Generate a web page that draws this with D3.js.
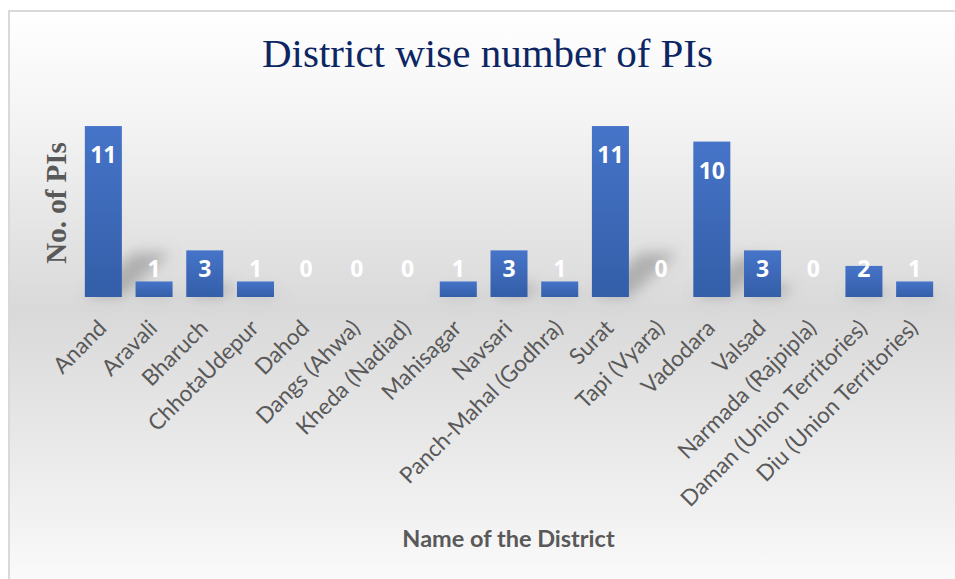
<!DOCTYPE html>
<html>
<head>
<meta charset="utf-8">
<script src="https://cdn.jsdelivr.net/npm/d3@7"></script>
<style>
  html, body { margin: 0; padding: 0; background: #fff; }
  svg { display: block; }
</style>
</head>
<body>
<div id="chart"></div>
<script>
// Dados do gráfico
const districts = [
  'Anand', 'Aravali', 'Bharuch', 'ChhotaUdepur', 'Dahod', 'Dangs (Ahwa)',
  'Kheda (Nadiad)', 'Mahisagar', 'Navsari', 'Panch-Mahal (Godhra)', 'Surat',
  'Tapi (Vyara)', 'Vadodara', 'Valsad', 'Narmada (Rajpipla)',
  'Daman (Union Territories)', 'Diu (Union Territories)'
];
const piCounts = [11, 1, 3, 1, 0, 0, 0, 1, 3, 1, 11, 0, 10, 3, 0, 2, 1];
const yDomain = [0, 12];

const chartTitle = 'District wise number of PIs';
const yTitle = 'No. of PIs';
const xTitle = 'Name of the District';

const width = 955;
const height = 579;

const svg = d3.select('#chart')
  .append('svg')
  .attr('width', width)
  .attr('height', height);

const defs = svg.append('defs');

// Fundo com gradiente (branco -> cinza -> branco)
const bg = defs.append('linearGradient')
  .attr('id', 'bg-grad')
  .attr('x1', 0).attr('y1', 0).attr('x2', 0).attr('y2', 1);
bg.append('stop').attr('offset', '0%').attr('stop-color', '#ffffff');
bg.append('stop').attr('offset', '18%').attr('stop-color', '#f4f4f4');
bg.append('stop').attr('offset', '50%').attr('stop-color', '#d9d9d9');
bg.append('stop').attr('offset', '85%').attr('stop-color', '#f2f2f2');
bg.append('stop').attr('offset', '100%').attr('stop-color', '#ffffff');

// Gradiente das barras
const barGrad = defs.append('linearGradient')
  .attr('id', 'bar-grad')
  .attr('x1', 0).attr('y1', 0).attr('x2', 0).attr('y2', 1);
barGrad.append('stop').attr('offset', '0%').attr('stop-color', '#4674c8');
barGrad.append('stop').attr('offset', '100%').attr('stop-color', '#335ea8');

// Sombra desfocada
defs.append('filter')
  .attr('id', 'blur')
  .attr('x', '-50%').attr('y', '-50%').attr('width', '200%').attr('height', '200%')
  .append('feGaussianBlur')
  .attr('stdDeviation', 7);

svg.append('rect')
  .attr('x', 9).attr('y', 11)
  .attr('width', 960).attr('height', 600)
  .attr('fill', 'url(#bg-grad)')
  .attr('stroke', '#d9d9d9')
  .attr('stroke-width', 2);

// Escalas
const x = d3.scaleBand()
  .domain(districts)
  .range([78, 940])
  .paddingInner(0.27)
  .paddingOuter(0.135);

const y = d3.scaleLinear()
  .domain(yDomain)
  .range([297, 110.5]);

const data = districts.map((d, i) => ({ name: d, value: piCounts[i] }));

// Sombras em perspectiva
svg.append('g')
  .attr('filter', 'url(#blur)')
  .selectAll('path')
  .data(data.filter(d => d.value > 0))
  .enter()
  .append('path')
  .attr('d', d => {
    const x0 = x(d.name);
    const x1 = x0 + x.bandwidth();
    const y0 = y(0);
    const h = (y(0) - y(d.value)) * 0.26;
    return `M${x0},${y0} L${x1},${y0} L${x1 + h * 1.1},${y0 - h} L${x0 + h * 1.1},${y0 - h} Z`;
  })
  .attr('fill', '#7f7f7f')
  .attr('opacity', 0.5);

// Barras
svg.append('g')
  .selectAll('rect')
  .data(data)
  .enter()
  .append('rect')
  .attr('x', d => x(d.name))
  .attr('y', d => y(d.value))
  .attr('width', x.bandwidth())
  .attr('height', d => y(0) - y(d.value))
  .attr('fill', 'url(#bar-grad)');

// Rótulos de valor
svg.append('g')
  .selectAll('text')
  .data(data)
  .enter()
  .append('text')
  .attr('x', d => x(d.name) + x.bandwidth() / 2)
  .attr('y', d => Math.min(y(d.value) + 37, y(0) - 20))
  .attr('text-anchor', 'middle')
  .style('font-family', '"Open Sans", Lato, sans-serif')
  .style('font-weight', 'bold')
  .style('font-size', '23px')
  .style('fill', '#ffffff')
  .text(d => d.value);

// Eixo X (somente rótulos)
const xAxis = svg.append('g')
  .attr('transform', `translate(0,${y(0)})`)
  .call(d3.axisBottom(x).tickSize(0).tickPadding(0));
xAxis.select('.domain').remove();
xAxis.selectAll('.tick text')
  .attr('transform', 'translate(-1,27) rotate(-45)')
  .attr('x', 0)
  .attr('y', 0)
  .attr('dy', '0.35em')
  .attr('text-anchor', 'end')
  .style('font-family', 'Lato, "Open Sans", sans-serif')
  .style('font-size', '22.5px')
  .style('fill', '#595959');

// Títulos
svg.append('text')
  .attr('x', 487.5)
  .attr('y', 67)
  .attr('text-anchor', 'middle')
  .style('font-family', '"Liberation Serif", "DejaVu Serif", serif')
  .style('font-size', '41px')
  .style('fill', '#0c2663')
  .text(chartTitle);

svg.append('text')
  .attr('transform', 'translate(66,203) rotate(-90)')
  .attr('text-anchor', 'middle')
  .style('font-family', '"Liberation Serif", "DejaVu Serif", serif')
  .style('font-weight', 'bold')
  .style('font-size', '29px')
  .style('fill', '#595959')
  .text(yTitle);

svg.append('text')
  .attr('x', 508.5)
  .attr('y', 547)
  .attr('text-anchor', 'middle')
  .style('font-family', 'Lato, "Open Sans", sans-serif')
  .style('font-weight', 'bold')
  .style('font-size', '23.5px')
  .style('fill', '#595959')
  .text(xTitle);
</script>
</body>
</html>
